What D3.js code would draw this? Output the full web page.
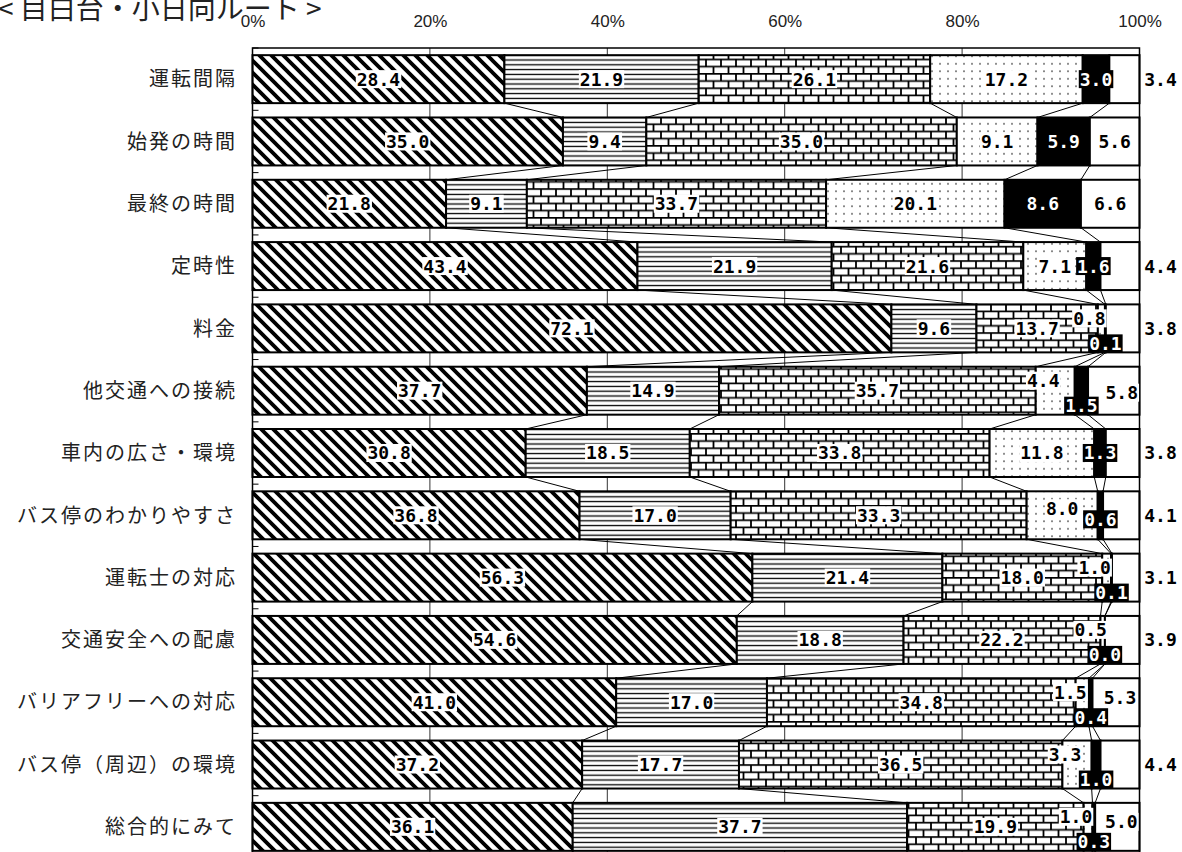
<!DOCTYPE html>
<html>
<head>
<meta charset="utf-8">
<script src="https://cdn.jsdelivr.net/npm/d3@7"></script>
<style>
  body { margin: 0; background: #fff; }
  svg { display: block; }
</style>
</head>
<body>
<div id="chart"></div>
<script>
// categories (top to bottom)
let categories = ["運転間隔", "始発の時間", "最終の時間", "定時性", "料金", "他交通への接続",
  "車内の広さ・環境", "バス停のわかりやすさ", "運転士の対応", "交通安全への配慮",
  "バリアフリーへの対応", "バス停（周辺）の環境", "総合的にみて"];

// the six answer groups, left to right
let series1 = [28.4, 35.0, 21.8, 43.4, 72.1, 37.7, 30.8, 36.8, 56.3, 54.6, 41.0, 37.2, 36.1];
let series2 = [21.9, 9.4, 9.1, 21.9, 9.6, 14.9, 18.5, 17.0, 21.4, 18.8, 17.0, 17.7, 37.7];
let series3 = [26.1, 35.0, 33.7, 21.6, 13.7, 35.7, 33.8, 33.3, 18.0, 22.2, 34.8, 36.5, 19.9];
let series4 = [17.2, 9.1, 20.1, 7.1, 0.8, 4.4, 11.8, 8.0, 1.0, 0.5, 1.5, 3.3, 1.0];
let series5 = [3.0, 5.9, 8.6, 1.6, 0.1, 1.5, 1.3, 0.6, 0.1, 0.0, 0.4, 1.0, 0.3];
let series6 = [3.4, 5.6, 6.6, 4.4, 3.8, 5.8, 3.8, 4.1, 3.1, 3.9, 5.3, 4.4, 5.0];

let tickValues = [0, 0.2, 0.4, 0.6, 0.8, 1];
let title = "< 目白台・小日向ルート >";

let keys = ["s1", "s2", "s3", "s4", "s5", "s6"];
let allSeries = [series1, series2, series3, series4, series5, series6];
let rows = categories.map((c, i) => {
  let r = {cat: c};
  keys.forEach((k, j) => r[k] = allSeries[j][i]);
  return r;
});

let svgWidth = 1182;
let svgHeight = 852;
let plotLeft = 252.5, plotRight = 1139.5, plotTop = 48, plotBottom = 858;

let xScale = d3.scaleLinear().domain([0, 1]).range([plotLeft, plotRight]);
let yScale = d3.scaleBand().domain(categories).range([plotTop, plotBottom])
  .paddingInner(0.23).paddingOuter(0.115);
let bw = yScale.bandwidth();

let stacked = d3.stack().keys(keys).offset(d3.stackOffsetExpand)(rows);

let svg = d3.select("#chart").append("svg")
  .attr("width", svgWidth)
  .attr("height", svgHeight);

// patterns
let defs = svg.append("defs");

let p1 = defs.append("pattern").attr("id", "pat1").attr("patternUnits", "userSpaceOnUse")
  .attr("width", 12).attr("height", 12);
p1.append("rect").attr("width", 12).attr("height", 12).attr("fill", "#fff");
p1.append("path").attr("d", "M-3,-3L15,15M-3,9L3,15M9,-3L15,3")
  .attr("stroke", "#000").attr("stroke-width", 3.8);

let p2 = defs.append("pattern").attr("id", "pat2").attr("patternUnits", "userSpaceOnUse")
  .attr("width", 8).attr("height", 4.8);
p2.append("rect").attr("width", 8).attr("height", 4.8).attr("fill", "#fff");
p2.append("path").attr("d", "M0,2.4H8").attr("stroke", "#000").attr("stroke-width", 1.3);

let p3 = defs.append("pattern").attr("id", "pat3").attr("patternUnits", "userSpaceOnUse")
  .attr("width", 15).attr("height", 14.4).attr("y", 1);
p3.append("rect").attr("width", 15).attr("height", 14.4).attr("fill", "#fff");
p3.append("path").attr("d", "M0,0.8H15M0,8H15M1,0.8V8M8.5,8V15.2")
  .attr("stroke", "#000").attr("stroke-width", 1.8);

let p4 = defs.append("pattern").attr("id", "pat4").attr("patternUnits", "userSpaceOnUse")
  .attr("width", 8).attr("height", 7.5);
p4.append("rect").attr("width", 8).attr("height", 7.5).attr("fill", "#fff");
p4.append("rect").attr("x", 3.2).attr("y", 3).attr("width", 1.6).attr("height", 1.6).attr("fill", "#555");

let fills = ["url(#pat1)", "url(#pat2)", "url(#pat3)", "url(#pat4)", "#000", "#fff"];

// gridlines
svg.append("g").selectAll("line")
  .data(tickValues.slice(1, 5))
  .join("line")
  .attr("x1", d => xScale(d)).attr("x2", d => xScale(d))
  .attr("y1", plotTop).attr("y2", plotBottom)
  .attr("stroke", "#333").attr("stroke-width", 1);

// bars
svg.append("g").selectAll("g")
  .data(stacked)
  .join("g")
  .attr("fill", (d, i) => fills[i])
  .selectAll("rect")
  .data(d => d)
  .join("rect")
  .attr("x", d => xScale(d[0]))
  .attr("y", d => yScale(d.data.cat))
  .attr("width", d => xScale(d[1]) - xScale(d[0]))
  .attr("height", bw)
  .attr("stroke", "#000")
  .attr("stroke-width", 2);

// connecting lines between bars
let links = [];
stacked.slice(0, 5).forEach(s => {
  for (let i = 0; i < s.length - 1; i++) {
    links.push({a: s[i], b: s[i + 1]});
  }
});
svg.append("g").selectAll("line")
  .data(links)
  .join("line")
  .attr("x1", d => xScale(d.a[1]))
  .attr("y1", d => yScale(d.a.data.cat) + bw)
  .attr("x2", d => xScale(d.b[1]))
  .attr("y2", d => yScale(d.b.data.cat))
  .attr("stroke", "#000").attr("stroke-width", 1);

// plot border
svg.append("rect")
  .attr("x", plotLeft).attr("y", plotTop)
  .attr("width", plotRight - plotLeft).attr("height", plotBottom - plotTop)
  .attr("fill", "none").attr("stroke", "#000").attr("stroke-width", 1.5);

// small ticks on the left between bars
let step = yScale.step();
svg.append("g").selectAll("line")
  .data(d3.range(categories.length + 1))
  .join("line")
  .attr("x1", plotLeft).attr("x2", plotLeft + 6)
  .attr("y1", i => plotTop + i * step).attr("y2", i => plotTop + i * step)
  .attr("stroke", "#000").attr("stroke-width", 1);

// title (partly cut at the top, as in the source)
svg.append("text")
  .attr("x", -2).attr("y", 19)
  .attr("font-family", "'Noto Sans CJK JP', sans-serif")
  .attr("font-size", 28)
  .attr("fill", "#222")
  .text(title);

// top axis
let xAxis = d3.axisTop(xScale).tickValues(tickValues)
  .tickFormat(d3.format(".0%")).tickSize(0).tickPadding(21);
let ax = svg.append("g").attr("transform", `translate(0,${plotTop})`).call(xAxis);
ax.select(".domain").remove();
ax.selectAll("text")
  .attr("font-family", "'Liberation Sans', Arial, sans-serif")
  .attr("font-size", 17).attr("fill", "#222");

// category labels
svg.append("g").selectAll("text")
  .data(categories)
  .join("text")
  .attr("x", 237)
  .attr("y", d => yScale(d) + bw / 2)
  .attr("dy", "0.36em")
  .attr("text-anchor", "end")
  .attr("font-family", "'Noto Sans CJK JP', sans-serif")
  .attr("font-size", 20)
  .attr("letter-spacing", 2)
  .attr("fill", "#222")
  .text(d => d);

// value labels
let labels = [];
stacked.forEach((s, k) => {
  s.forEach((d, i) => {
    let v = allSeries[k][i];
    let cx = (xScale(d[0]) + xScale(d[1])) / 2;
    let cy = yScale(d.data.cat) + bw / 2;
    let dotSmall = series4[i] < 5;
    let blackSmall = series5[i] < 1;
    if (k === 3 && dotSmall) { cx -= 12; cy -= 10; }
    else if (k === 3 && blackSmall) { cy -= 7; }
    if (k === 4 && dotSmall) { cy += 15; }
    else if (k === 4 && blackSmall) { cy += 4; }
    let inside = true;
    if (k === 5) {
      if (v < 5) { cx = plotRight + 21; inside = false; }
      else if (blackSmall) { cy -= 5; cx += 4; }
      else if (dotSmall) { cx += 8; cy += 2; }
    }
    labels.push({v: v, x: cx, y: cy, k: k, inside: inside});
  });
});

let lg = svg.append("g");
labels.forEach(l => {
  let g = lg.append("g");
  let t = g.append("text")
    .attr("x", l.x).attr("y", l.y)
    .attr("dy", "0.36em")
    .attr("text-anchor", "middle")
    .attr("font-family", "'DejaVu Sans Mono', monospace")
    .attr("font-weight", "bold")
    .attr("font-size", 18)
    .attr("fill", l.k === 4 ? "#fff" : "#000")
    .text(d3.format(".1f")(l.v));
  if (l.inside) {
    let b = t.node().getBBox();
    g.insert("rect", "text")
      .attr("x", b.x - 1).attr("y", b.y + 1.5)
      .attr("width", b.width + 2).attr("height", b.height - 3)
      .attr("fill", l.k === 4 ? "#000" : "#fff");
  }
});
</script>
</body>
</html>
